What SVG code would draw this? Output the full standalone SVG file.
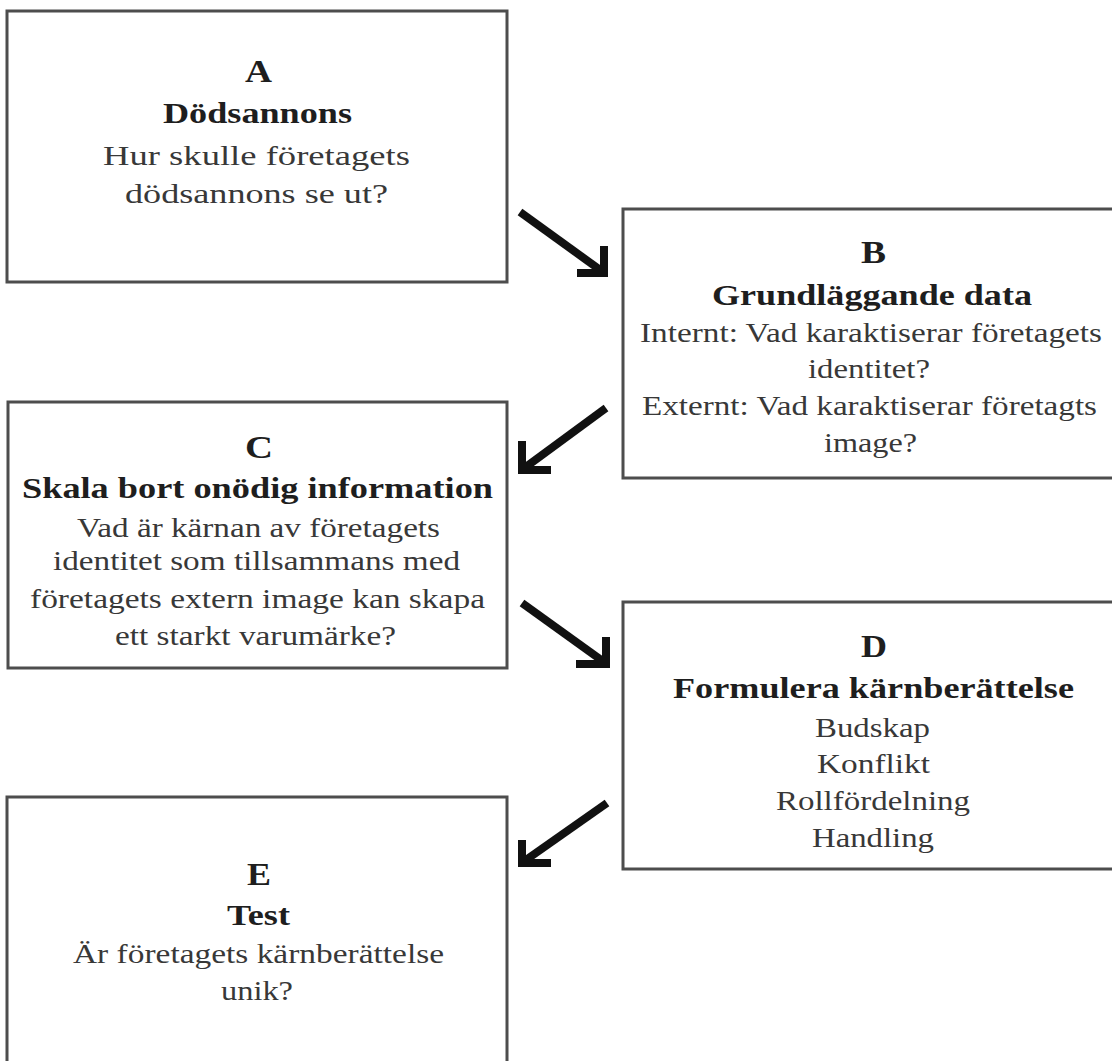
<svg xmlns="http://www.w3.org/2000/svg" width="1112" height="1061" viewBox="0 0 1112 1061">
<style>
.box{fill:#fff;stroke:#4d4d4d;stroke-width:3}
.t{font-family:"Liberation Serif","Times New Roman",serif;fill:#383838;font-size:27px}
.h{font-family:"Liberation Serif","Times New Roman",serif;fill:#1e1e1e;font-size:29px;font-weight:bold}
.l{font-family:"Liberation Serif","Times New Roman",serif;fill:#1e1e1e;font-size:32px;font-weight:bold}
.c{fill:none;stroke:#111;stroke-width:8;stroke-linecap:butt;stroke-linejoin:miter}
</style>
<rect width="1112" height="1061" fill="#fff"/>
<g id="nodeA">
<rect class="box" x="7" y="11" width="500" height="271"/>
<text class="l" x="245" y="82" textLength="27" lengthAdjust="spacingAndGlyphs">A</text>
<text class="h" x="163" y="123" textLength="189" lengthAdjust="spacingAndGlyphs">Dödsannons</text>
<text class="t" x="103" y="165" textLength="307" lengthAdjust="spacingAndGlyphs">Hur skulle företagets</text>
<text class="t" x="125" y="203" textLength="263" lengthAdjust="spacingAndGlyphs">dödsannons se ut?</text>
</g>
<g id="nodeB">
<rect class="box" x="623" y="209" width="500" height="269"/>
<text class="l" x="861" y="263" textLength="25" lengthAdjust="spacingAndGlyphs">B</text>
<text class="h" x="712" y="305" textLength="320" lengthAdjust="spacingAndGlyphs">Grundläggande data</text>
<text class="t" x="640" y="342" textLength="462" lengthAdjust="spacingAndGlyphs">Internt: Vad karaktiserar företagets</text>
<text class="t" x="808" y="378" textLength="122" lengthAdjust="spacingAndGlyphs">identitet?</text>
<text class="t" x="642" y="415" textLength="455" lengthAdjust="spacingAndGlyphs">Externt: Vad karaktiserar företagts</text>
<text class="t" x="824" y="452" textLength="93" lengthAdjust="spacingAndGlyphs">image?</text>
</g>
<g id="nodeC">
<rect class="box" x="8" y="402" width="499" height="266"/>
<text class="l" x="245" y="458" textLength="28" lengthAdjust="spacingAndGlyphs">C</text>
<text class="h" x="22" y="498" textLength="471" lengthAdjust="spacingAndGlyphs">Skala bort onödig information</text>
<text class="t" x="77" y="537" textLength="363" lengthAdjust="spacingAndGlyphs">Vad är kärnan av företagets</text>
<text class="t" x="53" y="570" textLength="407" lengthAdjust="spacingAndGlyphs">identitet som tillsammans med</text>
<text class="t" x="30" y="608" textLength="455" lengthAdjust="spacingAndGlyphs">företagets extern image kan skapa</text>
<text class="t" x="115" y="645" textLength="281" lengthAdjust="spacingAndGlyphs">ett starkt varumärke?</text>
</g>
<g id="nodeD">
<rect class="box" x="623" y="602" width="502" height="267"/>
<text class="l" x="861" y="657" textLength="26" lengthAdjust="spacingAndGlyphs">D</text>
<text class="h" x="673" y="698" textLength="401" lengthAdjust="spacingAndGlyphs">Formulera kärnberättelse</text>
<text class="t" x="815" y="737" textLength="115" lengthAdjust="spacingAndGlyphs">Budskap</text>
<text class="t" x="817" y="773" textLength="113" lengthAdjust="spacingAndGlyphs">Konflikt</text>
<text class="t" x="776" y="810" textLength="194" lengthAdjust="spacingAndGlyphs">Rollfördelning</text>
<text class="t" x="812" y="847" textLength="122" lengthAdjust="spacingAndGlyphs">Handling</text>
</g>
<g id="nodeE">
<rect class="box" x="7" y="797" width="500" height="275"/>
<text class="l" x="247" y="885" textLength="24" lengthAdjust="spacingAndGlyphs">E</text>
<text class="h" x="227" y="925" textLength="63" lengthAdjust="spacingAndGlyphs">Test</text>
<text class="t" x="73" y="963" textLength="371" lengthAdjust="spacingAndGlyphs">Är företagets kärnberättelse</text>
<text class="t" x="221" y="1000" textLength="72" lengthAdjust="spacingAndGlyphs">unik?</text>
</g>
<g id="connectors">
<path class="c" d="M520 212 L603 272"/>
<path class="c" d="M604 246 L604 273 L577 273"/>
<path class="c" d="M606 408 L523 469"/>
<path class="c" d="M522 441 L522 470 L551 470"/>
<path class="c" d="M522 603 L604 662"/>
<path class="c" d="M606 637 L606 664 L576 664"/>
<path class="c" d="M607 803 L523 862"/>
<path class="c" d="M522 840 L522 863 L551 863"/>
</g>
</svg>
